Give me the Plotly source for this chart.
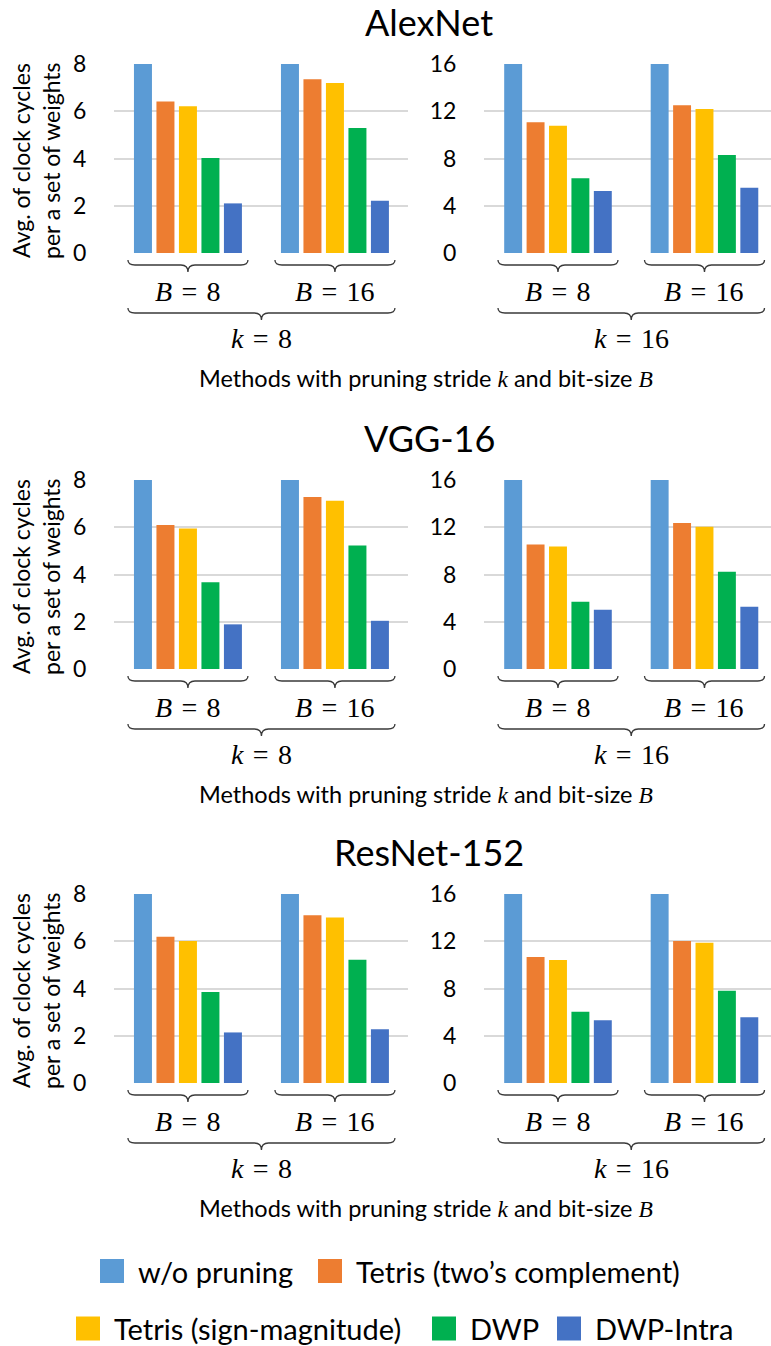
import plotly.graph_objects as go

W, H = 771, 1346

MODELS = ["AlexNet", "VGG-16", "ResNet-152"]
METHODS = ["w/o pruning", "Tetris (two’s complement)", "Tetris (sign-magnitude)", "DWP", "DWP-Intra"]
COLORS = ["#5B9BD5", "#ED7D31", "#FFC000", "#00B050", "#4472C4"]
STRIDES = [8, 16]          # pruning stride k (one panel each)
BIT_SIZES = [8, 16]        # bit-size B (one bar group each)

# Avg. clock cycles per set of weights, per method: [B = 8, B = 16]
ALEXNET_K8 = [[8, 8], [6.41, 7.35], [6.21, 7.20], [4.02, 5.29], [2.10, 2.21]]
ALEXNET_K16 = [[16, 16], [11.06, 12.50], [10.78, 12.19], [6.32, 8.30], [5.25, 5.53]]
VGG16_K8 = [[8, 8], [6.10, 7.28], [5.95, 7.12], [3.67, 5.23], [1.89, 2.04]]
VGG16_K16 = [[16, 16], [10.55, 12.36], [10.36, 12.05], [5.70, 8.24], [5.02, 5.28]]
RESNET152_K8 = [[8, 8], [6.19, 7.10], [6.01, 7.01], [3.85, 5.22], [2.14, 2.27]]
RESNET152_K16 = [[16, 16], [10.67, 12.02], [10.41, 11.88], [6.04, 7.82], [5.31, 5.56]]

PANELS = [[ALEXNET_K8, ALEXNET_K16], [VGG16_K8, VGG16_K16], [RESNET152_K8, RESNET152_K16]]

SANS = "Lato"
SERIF = "Liberation Serif"
INK = "#000000"
BRACE = "#3a3a3a"
SP = "\u2004"  # three-per-em space around "=" in the math labels

# panel geometry in pixels
ROW_TOP = [64, 480, 894]
PLOT_H = 189
COL_X = [(114, 408), (484, 771)]
COL_RANGE = [(-0.503, 1.497), (-0.505, 1.454)]


def py(px):
    return 1 - px / H


def px(x):
    return x / W


fig = go.Figure()
layout = dict(
    template="none",
    width=W, height=H, autosize=False,
    margin=dict(l=0, r=0, t=0, b=0, pad=0, autoexpand=False),
    paper_bgcolor="white", plot_bgcolor="white",
    barmode="group", bargap=0.235, bargroupgap=0.2,
    showlegend=False,
    font=dict(family=SANS, color=INK, size=23),
)
annotations = []
shapes = []


def brace_path(x0, x1, top, ppu, rise=5, tip=12, rad=7):
    r = rad / ppu
    xm = (x0 + x1) / 2
    yt, ym, yb = py(top), py(top + rise), py(top + tip)
    return (f"M{x0},{yt} Q{x0},{ym} {x0 + r},{ym} L{xm - r},{ym} "
            f"Q{xm},{ym} {xm},{yb} Q{xm},{ym} {xm + r},{ym} "
            f"L{x1 - r},{ym} Q{x1},{ym} {x1},{yt}")


for r, model in enumerate(MODELS):
    top = ROW_TOP[r]
    bottom = top + PLOT_H
    for c, k in enumerate(STRIDES):
        idx = r * 2 + c + 1
        xa = "x" if idx == 1 else f"x{idx}"
        ya = "y" if idx == 1 else f"y{idx}"
        vals = PANELS[r][c]
        for m, name in enumerate(METHODS):
            fig.add_trace(go.Bar(
                x=list(range(len(BIT_SIZES))), y=vals[m], name=name,
                marker=dict(color=COLORS[m], line=dict(width=0)),
                xaxis=xa, yaxis=ya, legendgroup=name,
            ))
        x0p, x1p = COL_X[c]
        lo, hi = COL_RANGE[c]
        layout["xaxis" + ("" if idx == 1 else str(idx))] = dict(
            domain=[px(x0p), px(x1p)], range=[lo, hi],
            showticklabels=False, showgrid=False, zeroline=False, showline=False,
            ticks="", automargin=False, anchor=ya, fixedrange=True,
        )
        layout["yaxis" + ("" if idx == 1 else str(idx))] = dict(
            domain=[py(bottom), py(top)], range=[0, k],
            tickvals=list(range(0, k + 1, k // 4)),
            showgrid=True, gridcolor="#D9D9D9", gridwidth=1.5,
            zeroline=False, showline=False,
            ticks="outside", ticklen=22, tickcolor="rgba(0,0,0,0)",
            tickfont=dict(family=SANS, size=23, color=INK),
            automargin=False, anchor=xa, fixedrange=True,
        )
        ppu = (x1p - x0p) / (hi - lo)
        half = 60 / ppu
        # group braces and labels for each bit-size
        for b, bits in enumerate(BIT_SIZES):
            shapes.append(dict(type="path", xref=xa, yref="paper",
                               path=brace_path(b - half, b + half, bottom + 7, ppu),
                               line=dict(color=BRACE, width=1.3)))
            annotations.append(dict(
                text=f"<i>B</i>{SP}={SP}{bits}", xref=xa, yref="paper",
                x=b, y=py(bottom + 38), showarrow=False,
                xanchor="center", yanchor="middle",
                font=dict(family=SERIF, size=28, color=INK)))
        # stride brace spanning both groups
        shapes.append(dict(type="path", xref=xa, yref="paper",
                           path=brace_path(0 - half, 1 + half, bottom + 55, ppu),
                           line=dict(color=BRACE, width=1.3)))
        annotations.append(dict(
            text=f"<i>k</i>{SP}={SP}{k}", xref=xa, yref="paper",
            x=0.5, y=py(bottom + 85), showarrow=False,
            xanchor="center", yanchor="middle",
            font=dict(family=SERIF, size=28, color=INK)))

    # model title
    annotations.append(dict(
        text=model, xref="paper", yref="paper", x=px(429), y=py(top - 42),
        showarrow=False, xanchor="center", yanchor="middle",
        font=dict(family=SANS, size=36, color=INK)))
    # y-axis title (two lines)
    for line, xpos in (("Avg. of clock cycles", 21), ("per a set of weights", 51)):
        annotations.append(dict(
            text=line, xref="paper", yref="paper", x=px(xpos), y=py(top + 97),
            showarrow=False, textangle=-90, xanchor="center", yanchor="middle",
            font=dict(family=SANS, size=23, color=INK)))
    # x-axis caption
    annotations.append(dict(
        text=(f"Methods with pruning stride <span style='font-family:{SERIF}'><i>k</i></span>"
              f" and bit-size <span style='font-family:{SERIF}'><i>B</i></span>"),
        xref="paper", yref="paper", x=px(426), y=py(bottom + 125),
        showarrow=False, xanchor="center", yanchor="middle",
        font=dict(family=SANS, size=23.5, color=INK)))

# legend: two rows of colour swatches with labels
LEGEND_ROWS = [
    (1271, [(0, 100), (1, 318)]),
    (1328.5, [(2, 76), (3, 432), (4, 557)]),
]
SW = 24
for yc, items in LEGEND_ROWS:
    for m, sx in items:
        shapes.append(dict(type="rect", xref="paper", yref="paper",
                           x0=px(sx), x1=px(sx + SW), y0=py(yc + SW / 2), y1=py(yc - SW / 2),
                           fillcolor=COLORS[m], line=dict(width=0)))
        annotations.append(dict(
            text=METHODS[m], xref="paper", yref="paper", x=px(sx + SW + 12), y=py(yc),
            showarrow=False, xanchor="left", yanchor="middle",
            font=dict(family=SANS, size=29, color=INK)))

layout["annotations"] = annotations
layout["shapes"] = shapes
fig.update_layout(**layout)
fig.write_html("out.html")
